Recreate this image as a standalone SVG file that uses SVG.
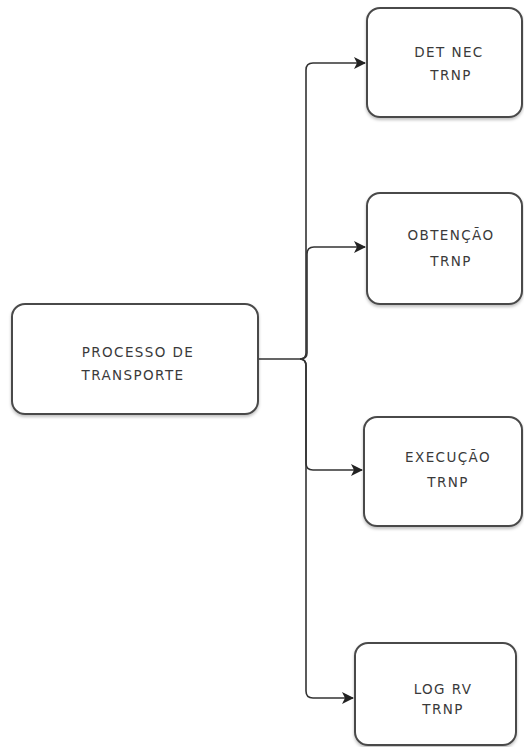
<svg xmlns="http://www.w3.org/2000/svg" width="524" height="747" viewBox="0 0 524 747">
  <defs>
    <marker id="arrow" viewBox="0 0 12 12" refX="11" refY="6" markerWidth="12" markerHeight="12" markerUnits="userSpaceOnUse" orient="auto">
      <path d="M0,0 L12,6 L0,12 L3,6 Z" fill="#222"/>
    </marker>
    <filter id="shadow" x="-10%" y="-10%" width="120%" height="130%">
      <feDropShadow dx="0" dy="2" stdDeviation="1.5" flood-color="#000" flood-opacity="0.25"/>
    </filter>
  </defs>
  <style>
    .box { fill: #fff; stroke: #4a4a4a; stroke-width: 2; filter: url(#shadow); }
    .label { font-family: "DejaVu Sans", "Open Sans", sans-serif; font-size: 13.5px; fill: #3a3a3a; text-anchor: middle; letter-spacing: 1.4px; }
    .link { fill: none; stroke: #333; stroke-width: 1.6; }
  </style>
  <rect width="524" height="747" fill="#fff"/>

  <g id="connectors">
    <path class="link" d="M258,359 H300 Q306,359 306,353 V70 Q306,63 313,63 H365" marker-end="url(#arrow)"/>
    <path class="link" d="M300,359 Q307,359 307,353 V254 Q307,247 314,247 H365" marker-end="url(#arrow)"/>
    <path class="link" d="M300,359 Q306,359 306,366 V463 Q306,470 313,470 H362" marker-end="url(#arrow)"/>
    <path class="link" d="M300,359 Q306,359 306,366 V691 Q306,698 313,698 H353" marker-end="url(#arrow)"/>
  </g>

  <g id="processo-transporte">
    <rect class="box" x="12" y="304" width="246" height="110" rx="13"/>
    <text class="label" x="138" y="357">PROCESSO DE</text>
    <text class="label" x="133" y="380">TRANSPORTE</text>
  </g>

  <g id="det-nec-trnp">
    <rect class="box" x="367" y="8" width="155" height="109" rx="13"/>
    <text class="label" x="449" y="57">DET NEC</text>
    <text class="label" x="451" y="80">TRNP</text>
  </g>

  <g id="obtencao-trnp">
    <rect class="box" x="367" y="193" width="155" height="111" rx="13"/>
    <text class="label" x="451" y="240">OBTENÇÃO</text>
    <text class="label" x="451" y="266">TRNP</text>
  </g>

  <g id="execucao-trnp">
    <rect class="box" x="364" y="417" width="158" height="109" rx="13"/>
    <text class="label" x="448" y="462">EXECUÇÃO</text>
    <text class="label" x="448" y="487">TRNP</text>
  </g>

  <g id="log-rv-trnp">
    <rect class="box" x="355" y="643" width="161" height="102" rx="13"/>
    <text class="label" x="443" y="694">LOG RV</text>
    <text class="label" x="443" y="714">TRNP</text>
  </g>
</svg>
